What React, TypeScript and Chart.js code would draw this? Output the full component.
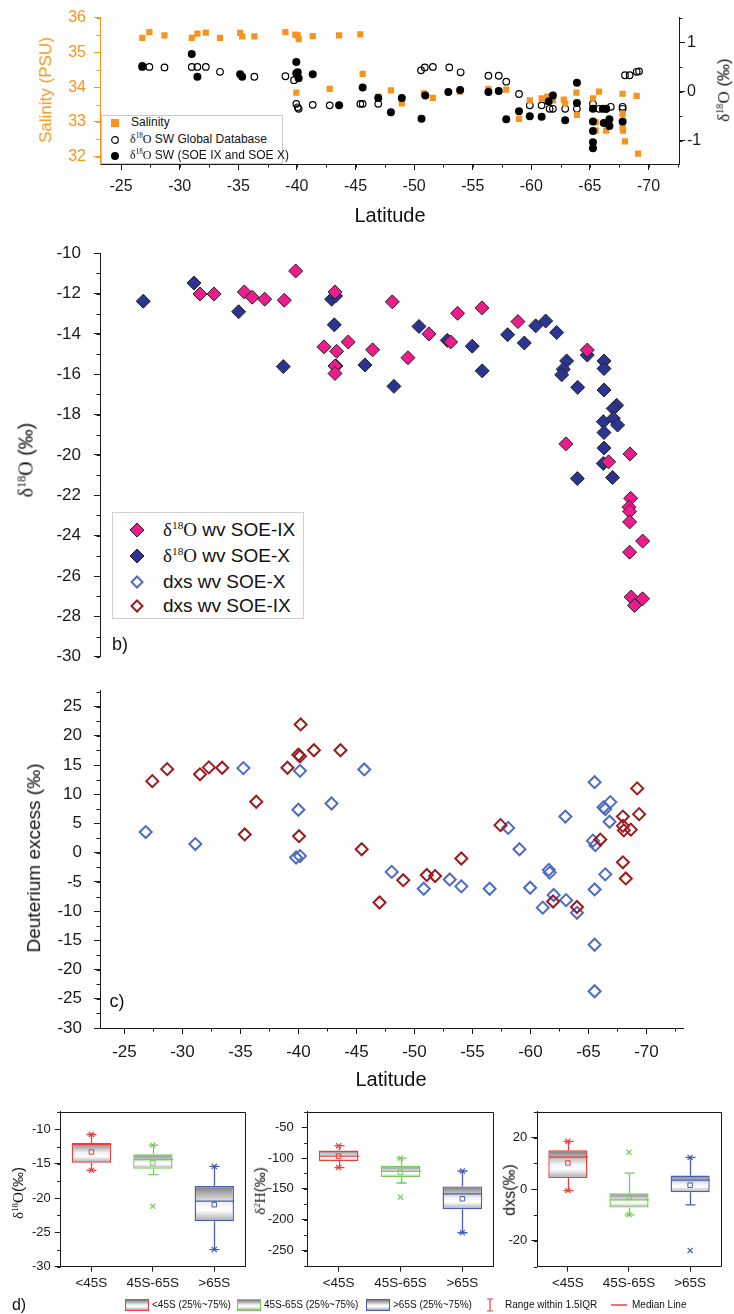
import React, { useEffect, useRef } from 'react';
import { Chart, registerables } from 'chart.js';

Chart.register(...registerables);

const SANS = '"Liberation Sans", Arial, Helvetica, sans-serif';
const SERIF = '"Liberation Serif", "Times New Roman", serif';
const AX = '#1a1a1a';
const ORANGE = '#f7931e';
const PINK = '#ec1c8c';
const NAVY = '#2b3591';
const DXS_BLUE = '#4d6cc2';
const DXS_RED = '#9b1b1f';
const BOX_COLORS = ['#ef3b3b', '#78c85a', '#4a5cb6'];

// ---------------- Panel a: surface seawater ----------------
const salLat = [-26.81, -27.41, -28.7, -31.03, -31.51, -32.23, -33.44, -35.16, -35.33, -36.37, -39.02, -39.87, -40.07, -40.15, -39.95, -41.35, -43.6, -45.41, -45.61, -42.8, -46.94, -48.02, -48.95, -50.83, -51.6, -53.89, -56.34, -57.22, -57.86, -58.95, -59.87, -60.88, -61.36, -61.84, -62.77, -62.89, -63.85, -63.89, -65.26, -65.78, -65.5, -65.5, -66.38, -67.79, -67.79, -67.79, -67.83, -67.99, -68.99, -69.11];
const salVal = [35.42, 35.58, 35.49, 35.42, 35.54, 35.57, 35.42, 35.56, 35.46, 35.46, 35.58, 35.51, 35.49, 35.38, 33.84, 35.47, 35.49, 35.52, 34.38, 33.95, 33.73, 33.91, 33.53, 33.82, 33.69, 33.87, 33.95, 33.89, 33.93, 33.09, 33.62, 33.68, 33.73, 33.62, 33.64, 33.53, 33.84, 33.2, 33.68, 33.87, 32.99, 32.75, 32.75, 33.81, 33.23, 32.84, 32.75, 32.44, 33.75, 32.09];
const gdbLat = [-26.81, -27.41, -28.7, -31.03, -31.51, -32.23, -33.44, -36.37, -39.02, -39.75, -39.95, -40.07, -40.15, -41.35, -42.8, -45.41, -45.61, -46.94, -50.59, -50.91, -51.6, -53.0, -53.97, -56.34, -57.22, -57.86, -58.95, -59.87, -60.88, -61.56, -61.84, -62.89, -63.89, -65.26, -65.78, -66.38, -66.78, -67.79, -67.79, -67.99, -68.39, -68.99, -69.19];
const gdbVal = [0.5, 0.5, 0.49, 0.5, 0.5, 0.5, 0.4, 0.3, 0.31, 0.23, -0.25, -0.32, -0.35, -0.27, -0.28, -0.25, -0.25, -0.25, 0.43, 0.49, 0.5, 0.49, 0.39, 0.32, 0.32, 0.2, -0.05, -0.28, -0.28, -0.35, -0.35, -0.35, -0.35, -0.25, -0.35, -0.35, -0.31, -0.35, -0.31, 0.33, 0.33, 0.4, 0.41];
const soeLat = [-26.81, -31.03, -31.51, -35.16, -35.33, -39.95, -39.95, -40.07, -40.15, -41.35, -43.6, -45.61, -46.94, -48.02, -48.95, -50.63, -50.95, -52.92, -53.93, -56.34, -57.22, -57.86, -58.95, -59.87, -60.88, -61.48, -61.84, -62.89, -63.89, -63.89, -65.26, -65.26, -65.26, -65.26, -65.26, -66.1, -66.38, -66.18, -66.66, -66.66, -67.79];
const soeVal = [0.52, 0.76, 0.3, 0.35, 0.3, 0.6, 0.37, 0.39, 0.27, 0.35, -0.28, 0.08, -0.13, -0.42, -0.13, -0.55, -0.08, -0.01, 0.03, -0.01, 0.01, -0.56, -0.4, -0.5, -0.51, -0.2, -0.08, -0.58, 0.18, -0.23, -0.35, -0.61, -0.8, -1.03, -1.15, -0.35, -0.35, -0.64, -0.56, -0.7, -0.61];

// ---------------- Panel b: water vapour d18O ----------------
const ixLat = [-31.51, -32.72, -35.33, -36.02, -37.09, -38.78, -39.76, -42.2, -43.15, -43.29, -43.15, -43.15, -44.29, -46.39, -48.09, -49.44, -51.25, -53.12, -53.72, -55.82, -58.92, -64.9, -63.06, -66.74, -68.58, -68.64, -68.5, -68.55, -68.55, -69.67, -68.55, -68.68, -69.66, -68.97];
const ixD18O = [-12.02, -12.02, -11.92, -12.18, -12.28, -12.33, -10.88, -14.64, -11.92, -14.86, -15.59, -15.96, -14.4, -14.79, -12.41, -15.18, -14.0, -14.4, -12.98, -12.71, -13.39, -14.8, -19.45, -20.34, -19.95, -22.15, -22.59, -22.8, -23.32, -24.27, -24.82, -27.04, -27.13, -27.46];
const xLat = [-26.62, -30.99, -34.84, -38.69, -42.86, -43.2, -43.09, -43.23, -45.73, -48.23, -50.39, -52.83, -54.98, -55.84, -58.03, -59.47, -60.45, -61.31, -62.26, -63.12, -62.83, -62.69, -64.07, -64.9, -66.34, -66.34, -66.34, -67.43, -67.14, -66.28, -67.14, -67.51, -66.34, -66.34, -66.28, -64.04, -67.08];
const xD18O = [-12.38, -11.48, -12.9, -15.62, -12.28, -12.12, -13.55, -15.59, -15.54, -16.6, -13.63, -14.32, -14.61, -15.83, -14.04, -14.45, -13.6, -13.36, -13.93, -15.34, -15.75, -16.03, -16.65, -15.05, -15.34, -15.72, -16.78, -17.54, -17.7, -18.35, -18.19, -18.52, -18.89, -19.66, -20.42, -21.17, -21.12];

// ---------------- Panel c: deuterium excess ----------------
const dxsIxLat = [-27.4, -28.68, -31.51, -32.28, -33.42, -36.36, -35.37, -39.05, -39.99, -40.13, -40.19, -40.05, -41.33, -43.62, -45.45, -46.99, -49.03, -51.06, -51.78, -54.04, -57.42, -61.95, -64.01, -66.02, -67.97, -67.97, -68.05, -68.65, -67.97, -68.22, -69.2, -69.37];
const dxsIxVal = [12.24, 14.29, 13.41, 14.59, 14.53, 8.71, 3.12, 14.53, 16.76, 16.5, 21.94, 2.82, 17.53, 17.53, 0.59, -8.53, -4.71, -3.82, -4.0, -1.0, 4.71, -8.35, -9.29, 2.24, 6.18, 4.59, 3.82, 3.94, -1.65, -4.41, 11.0, 6.59];
const dxsXLat = [-26.83, -31.11, -35.25, -39.79, -40.13, -39.99, -40.13, -42.85, -45.67, -48.04, -50.8, -53.04, -54.04, -56.48, -58.08, -59.05, -59.97, -61.06, -61.58, -61.66, -62.0, -63.07, -63.01, -64.01, -65.53, -65.39, -65.59, -65.53, -65.53, -65.53, -66.3, -66.45, -66.88, -66.82, -66.45];
const dxsXVal = [3.53, 1.47, 14.47, -0.82, -0.59, 7.35, 14.0, 8.41, 14.24, -3.29, -6.18, -4.59, -5.76, -6.18, 4.24, 0.59, -6.0, -9.41, -2.94, -3.41, -7.24, -8.12, 6.18, -10.29, 12.06, 2.06, 1.29, -6.29, -15.76, -23.71, 7.76, 7.47, 8.65, 5.29, -3.71];

// ---------------- Ticks ----------------
const latTicks = [-70, -65, -60, -55, -50, -45, -40, -35, -30, -25];
const salTicks = [32, 33, 34, 35, 36];
const swTicks = [-1, 0, 1];
const wvTicks = [-30, -28, -26, -24, -22, -20, -18, -16, -14, -12, -10];
const dxsTicks = [-30, -25, -20, -15, -10, -5, 0, 5, 10, 15, 20, 25];

// ---------------- Panel d: box plots ----------------
const boxCats = ['<45S', '45S-65S', '>65S'];
const o18Q1 = [-14.85, -15.75, -23.4];
const o18Q3 = [-11.97, -13.62, -18.25];
const o18Med = [-12.2, -14.39, -20.44];
const o18Mean = [-13.3, -14.9, -20.97];
const o18WLo = [-15.97, -16.6, -27.5];
const o18WHi = [-10.75, -12.3, -15.4];
const o18Min = [-15.97, -21.2, -27.5];
const o18Max = [-10.75, -12.3, -15.4];
const o18Ticks = [-30, -25, -20, -15, -10];

const h2Q1 = [-105, -131, -183];
const h2Q3 = [-88, -112.7, -146];
const h2Med = [-97, -121.5, -158];
const h2Mean = [-97, -123.3, -166];
const h2WLo = [-115.5, -140.5, -221];
const h2WHi = [-80, -100.3, -121];
const h2Min = [-115.5, -163.5, -221];
const h2Max = [-80, -100.3, -121];
const h2Ticks = [-250, -200, -150, -100, -50];

const dxQ1 = [4.3, -7.1, -1.16];
const dxQ3 = [15.05, -1.55, 5.3];
const dxMed = [12.45, -4.13, 3.5];
const dxMean = [10.15, -3.1, 1.55];
const dxWLo = [-0.55, -9.9, -6.1];
const dxWHi = [18.55, 6.2, 12.3];
const dxMin = [-0.55, -9.9, -23.7];
const dxMax = [18.55, 14.3, 12.3];
const dxTicks = [-20, 0, 20];

// ---------------- helpers ----------------
const toXY = (xs: number[], ys: number[]) => xs.map((x, i) => ({ x, y: ys[i] }));

function linAxis(p: any) {
  const horiz = p.position === 'bottom' || p.position === 'top';
  return {
    type: 'linear',
    display: p.display === undefined ? true : p.display,
    position: p.position,
    min: p.min,
    max: p.max,
    reverse: !!p.reverse,
    afterBuildTicks: (s: any) => {
      s.ticks = p.ticks.map((v: number) => ({ value: v }));
    },
    afterFit: (s: any) => {
      if (horiz) s.height = p.size;
      else s.width = p.size;
    },
    grid: { drawOnChartArea: false, drawTicks: true, tickLength: p.tickLen ?? 6, color: p.color ?? AX, lineWidth: 1 },
    border: { display: true, color: p.color ?? AX, width: 1 },
    ticks: {
      color: p.color ?? AX,
      font: { family: SANS, size: p.font },
      padding: p.pad,
      autoSkip: false,
      maxRotation: 0,
      minRotation: 0,
      callback: (v: number) => String(v),
    },
    title: { display: false },
  };
}

function minorTicks(list: { id: string; step: number; len?: number; color?: string }[]) {
  return {
    id: 'minorTicks',
    afterDraw(chart: any) {
      const ctx = chart.ctx;
      ctx.save();
      ctx.lineWidth = 1;
      for (const m of list) {
        const s = chart.scales[m.id];
        if (!s || !s.options.display) continue;
        const lo = Math.min(s.min, s.max);
        const hi = Math.max(s.min, s.max);
        const len = m.len ?? 3.5;
        ctx.strokeStyle = m.color ?? AX;
        ctx.beginPath();
        const n0 = Math.ceil(lo / m.step - 1e-6);
        const n1 = Math.floor(hi / m.step + 1e-6);
        for (let n = n0; n <= n1; n++) {
          const p = Math.round(s.getPixelForValue(n * m.step)) + 0.5;
          if (s.isHorizontal()) {
            ctx.moveTo(p, s.top);
            ctx.lineTo(p, s.top + len);
          } else if (s.position === 'right') {
            ctx.moveTo(s.left, p);
            ctx.lineTo(s.left + len, p);
          } else {
            ctx.moveTo(s.right, p);
            ctx.lineTo(s.right - len, p);
          }
        }
        ctx.stroke();
      }
      ctx.restore();
    },
  };
}

const framePlugin = {
  id: 'frame',
  afterDraw(chart: any) {
    const { left, right, top, bottom } = chart.chartArea;
    const ctx = chart.ctx;
    ctx.save();
    ctx.strokeStyle = AX;
    ctx.lineWidth = 1;
    ctx.beginPath();
    ctx.moveTo(left, Math.round(top) + 0.5);
    ctx.lineTo(Math.round(right) + 0.5, Math.round(top) + 0.5);
    ctx.lineTo(Math.round(right) + 0.5, bottom);
    ctx.stroke();
    ctx.restore();
  },
};

function boxExtras(b: { q1: number[]; q3: number[]; med: number[]; wLo: number[]; wHi: number[] }) {
  return {
    id: 'boxExtras',
    afterDatasetsDraw(chart: any) {
      const xs = chart.scales.x;
      const ys = chart.scales.y;
      const ctx = chart.ctx;
      const bars = chart.getDatasetMeta(0).data;
      const py = (v: number) => ys.getPixelForValue(v);
      ctx.save();
      b.q1.forEach((_v, i) => {
        const cx = Math.round(xs.getPixelForValue(i)) + 0.5;
        const w = bars[i] ? bars[i].width : 30;
        ctx.strokeStyle = BOX_COLORS[i];
        ctx.lineWidth = 1.3;
        ctx.beginPath();
        ctx.moveTo(cx, py(b.q3[i]));
        ctx.lineTo(cx, py(b.wHi[i]));
        ctx.moveTo(cx, py(b.q1[i]));
        ctx.lineTo(cx, py(b.wLo[i]));
        ctx.moveTo(cx - 5, py(b.wHi[i]));
        ctx.lineTo(cx + 5, py(b.wHi[i]));
        ctx.moveTo(cx - 5, py(b.wLo[i]));
        ctx.lineTo(cx + 5, py(b.wLo[i]));
        ctx.moveTo(cx - w / 2, py(b.med[i]));
        ctx.lineTo(cx + w / 2, py(b.med[i]));
        ctx.stroke();
      });
      ctx.restore();
    },
  };
}

const baseOpts = {
  responsive: false,
  maintainAspectRatio: false,
  animation: false,
  events: [] as string[],
  plugins: { legend: { display: false }, tooltip: { enabled: false } },
};

function configA() {
  return {
    type: 'scatter',
    data: {
      datasets: [
        { label: 'δ18O SW (SOE IX and SOE X)', data: toXY(soeLat, soeVal), yAxisID: 'y2', pointStyle: 'circle', pointRadius: 4, pointBackgroundColor: '#000', pointBorderColor: '#000', pointBorderWidth: 0, order: 1 },
        { label: 'Salinity', data: toXY(salLat, salVal), yAxisID: 'y', pointStyle: 'rect', pointRadius: 4.4, pointBackgroundColor: ORANGE, pointBorderColor: ORANGE, pointBorderWidth: 0, order: 2 },
        { label: 'δ18O SW Global Database', data: toXY(gdbLat, gdbVal), yAxisID: 'y2', pointStyle: 'circle', pointRadius: 3.3, pointBackgroundColor: 'rgba(255,255,255,0)', pointBorderColor: '#000', pointBorderWidth: 1.2, order: 3 },
      ],
    },
    options: {
      ...baseOpts,
      layout: { padding: { top: 15, left: 0, right: 0, bottom: 0 } },
      scales: {
        x: linAxis({ position: 'bottom', min: -72.6, max: -23.2, reverse: true, ticks: latTicks, size: 66, font: 16, pad: 7 }),
        y: linAxis({ position: 'left', min: 31.79, max: 36, ticks: salTicks, size: 100, font: 16, pad: 8, color: ORANGE }),
        y2: linAxis({ position: 'right', min: -1.47, max: 1.5, ticks: swTicks, size: 55, font: 16, pad: 2 }),
      },
    },
    plugins: [minorTicks([{ id: 'x', step: 2.5 }, { id: 'y', step: 0.5, color: ORANGE }, { id: 'y2', step: 0.5 }])],
  };
}

function configB() {
  return {
    type: 'scatter',
    data: {
      datasets: [
        { label: 'δ18O wv SOE-IX', data: toXY(ixLat, ixD18O), pointStyle: 'rectRot', pointRadius: 7, pointBackgroundColor: PINK, pointBorderColor: '#222', pointBorderWidth: 1, order: 1 },
        { label: 'δ18O wv SOE-X', data: toXY(xLat, xD18O), pointStyle: 'rectRot', pointRadius: 7, pointBackgroundColor: NAVY, pointBorderColor: '#222', pointBorderWidth: 1, order: 2 },
      ],
    },
    options: {
      ...baseOpts,
      layout: { padding: { top: 17.3, left: 0, right: 51, bottom: 23.3 } },
      scales: {
        x: linAxis({ display: false, position: 'bottom', min: -73.15, max: -22.89, reverse: true, ticks: latTicks, size: 0, font: 16, pad: 8 }),
        y: linAxis({ position: 'left', min: -30, max: -10, ticks: wvTicks, size: 100, font: 17, pad: 13 }),
      },
    },
    plugins: [minorTicks([{ id: 'y', step: 1 }])],
  };
}

function configC() {
  return {
    type: 'scatter',
    data: {
      datasets: [
        { label: 'dxs wv SOE-IX', data: toXY(dxsIxLat, dxsIxVal), pointStyle: 'rectRot', pointRadius: 6, pointBackgroundColor: 'rgba(255,255,255,0)', pointBorderColor: DXS_RED, pointBorderWidth: 2, order: 1 },
        { label: 'dxs wv SOE-X', data: toXY(dxsXLat, dxsXVal), pointStyle: 'rectRot', pointRadius: 6, pointBackgroundColor: 'rgba(255,255,255,0)', pointBorderColor: DXS_BLUE, pointBorderWidth: 2, order: 2 },
      ],
    },
    options: {
      ...baseOpts,
      layout: { padding: { top: 22, left: 0, right: 51, bottom: 0 } },
      scales: {
        x: linAxis({ position: 'bottom', min: -73.15, max: -22.89, reverse: true, ticks: latTicks, size: 52, font: 17, pad: 8 }),
        y: linAxis({ position: 'left', min: -30, max: 27.8, ticks: dxsTicks, size: 100, font: 17, pad: 12 }),
      },
    },
    plugins: [minorTicks([{ id: 'x', step: 2.5 }, { id: 'y', step: 2.5 }])],
  };
}

function boxGradient(c: any) {
  const chart = c.chart;
  const ys = chart.scales && chart.scales.y;
  if (!ys || c.type !== 'data' || !c.raw) return '#dddddd';
  const t = ys.getPixelForValue(c.raw[1]);
  const bt = ys.getPixelForValue(c.raw[0]);
  if (!isFinite(t) || !isFinite(bt) || t === bt) return '#dddddd';
  const g = chart.ctx.createLinearGradient(0, t, 0, bt);
  g.addColorStop(0, '#7c7c7c');
  g.addColorStop(0.5, '#f4f4f4');
  g.addColorStop(0.68, '#ffffff');
  g.addColorStop(1, '#a6a6a6');
  return g;
}

function configBox(p: any) {
  return {
    type: 'bar',
    data: {
      labels: boxCats,
      datasets: [
        { type: 'bar', label: 'box', data: p.q1.map((v: number, i: number) => [v, p.q3[i]]), backgroundColor: boxGradient, borderColor: BOX_COLORS, borderWidth: 1.4, borderSkipped: false, barPercentage: 0.64, categoryPercentage: 1, order: 3 },
        { type: 'line', label: 'mean', data: p.mean, showLine: false, pointStyle: 'rect', pointRadius: 3.2, pointBackgroundColor: 'rgba(255,255,255,0)', pointBorderColor: BOX_COLORS, pointBorderWidth: 1, order: 1 },
        { type: 'line', label: 'min', data: p.mn, showLine: false, pointStyle: 'crossRot', pointRadius: 3.6, pointBorderColor: BOX_COLORS, pointBorderWidth: 1.2, order: 1 },
        { type: 'line', label: 'max', data: p.mx, showLine: false, pointStyle: 'crossRot', pointRadius: 3.6, pointBorderColor: BOX_COLORS, pointBorderWidth: 1.2, order: 1 },
      ],
    },
    options: {
      ...baseOpts,
      layout: { padding: { top: 16.7, left: 0, right: p.rightPad, bottom: 0 } },
      scales: {
        x: {
          type: 'category',
          position: 'bottom',
          offset: true,
          afterFit: (s: any) => {
            s.height = 33.3;
          },
          grid: { drawOnChartArea: false, offset: false, drawTicks: true, tickLength: 5, color: AX },
          border: { display: true, color: AX, width: 1 },
          ticks: { font: { family: SANS, size: 13.5 }, color: AX, padding: 3, maxRotation: 0, minRotation: 0, autoSkip: false },
        },
        y: linAxis({ position: 'left', min: p.min, max: p.max, ticks: p.ticks, size: p.ySize, font: 13, pad: p.pad }),
      },
    },
    plugins: [minorTicks([{ id: 'y', step: p.minor }]), framePlugin, boxExtras({ q1: p.q1, q3: p.q3, med: p.med, wLo: p.wLo, wHi: p.wHi })],
  };
}

// ---------------- text helpers ----------------
const Sup = ({ children }: { children: any }) => (
  <span style={{ fontSize: '0.6em', position: 'relative', top: '-0.6em', lineHeight: 0 }}>{children}</span>
);

function T(props: { x: number; y: number; size: number; rot?: boolean; left?: boolean; color?: string; family?: string; children: any }) {
  const tr = props.left ? 'translate(0,-50%)' : `translate(-50%,-50%)${props.rot ? ' rotate(-90deg)' : ''}`;
  return (
    <div
      style={{
        position: 'absolute',
        left: props.x,
        top: props.y,
        transform: tr,
        fontSize: props.size,
        color: props.color ?? '#111',
        fontFamily: props.family ?? SANS,
        whiteSpace: 'nowrap',
        lineHeight: 1.15,
      }}
    >
      {props.children}
    </div>
  );
}

const Iso = ({ sup = '18', el = 'O' }: { sup?: string; el?: string }) => (
  <span style={{ fontFamily: SERIF }}>
    δ<Sup>{sup}</Sup>
    {el}
  </span>
);

function Marker(props: { x: number; y: number; kind: string; color: string }) {
  const s = 16;
  const h = s / 2;
  let el: any = null;
  if (props.kind === 'square') el = <rect x={h - 4} y={h - 4} width={8} height={8} fill={props.color} />;
  if (props.kind === 'open') el = <circle cx={h} cy={h} r={3.3} fill="none" stroke="#000" strokeWidth={1.2} />;
  if (props.kind === 'dot') el = <circle cx={h} cy={h} r={4} fill="#000" />;
  if (props.kind === 'diamond') el = <polygon points={`${h},${h - 7} ${h + 7},${h} ${h},${h + 7} ${h - 7},${h}`} fill={props.color} stroke="#222" strokeWidth={1} />;
  if (props.kind === 'odiamond') el = <polygon points={`${h},${h - 5.5} ${h + 5.5},${h} ${h},${h + 5.5} ${h - 5.5},${h}`} fill="none" stroke={props.color} strokeWidth={2} />;
  return (
    <svg width={s} height={s} style={{ position: 'absolute', left: props.x - h, top: props.y - h }}>
      {el}
    </svg>
  );
}

function BoxIcon(props: { x: number; y: number; color: string }) {
  return (
    <div
      style={{
        position: 'absolute',
        left: props.x,
        top: props.y - 6,
        width: 24,
        height: 12,
        boxSizing: 'border-box',
        border: `1px solid ${props.color}`,
        background: 'linear-gradient(to bottom, #7c7c7c, #f4f4f4 50%, #ffffff 68%, #a6a6a6)',
      }}
    />
  );
}

export default function App() {
  const ra = useRef<HTMLCanvasElement>(null);
  const rb = useRef<HTMLCanvasElement>(null);
  const rc = useRef<HTMLCanvasElement>(null);
  const rd1 = useRef<HTMLCanvasElement>(null);
  const rd2 = useRef<HTMLCanvasElement>(null);
  const rd3 = useRef<HTMLCanvasElement>(null);

  useEffect(() => {
    const charts: any[] = [];
    if (ra.current) charts.push(new Chart(ra.current, configA() as any));
    if (rb.current) charts.push(new Chart(rb.current, configB() as any));
    if (rc.current) charts.push(new Chart(rc.current, configC() as any));
    if (rd1.current)
      charts.push(
        new Chart(rd1.current, configBox({ q1: o18Q1, q3: o18Q3, med: o18Med, mean: o18Mean, wLo: o18WLo, wHi: o18WHi, mn: o18Min, mx: o18Max, ticks: o18Ticks, min: -30, max: -7.43, minor: 2.5, ySize: 60.7, rightPad: 15, pad: 4 }) as any)
      );
    if (rd2.current)
      charts.push(
        new Chart(rd2.current, configBox({ q1: h2Q1, q3: h2Q3, med: h2Med, mean: h2Mean, wLo: h2WLo, wHi: h2WHi, mn: h2Min, mx: h2Max, ticks: h2Ticks, min: -276, max: -25, minor: 25, ySize: 57.7, rightPad: 16.7, pad: 8 }) as any)
      );
    if (rd3.current)
      charts.push(
        new Chart(rd3.current, configBox({ q1: dxQ1, q3: dxQ3, med: dxMed, mean: dxMean, wLo: dxWLo, wHi: dxWHi, mn: dxMin, mx: dxMax, ticks: dxTicks, min: -30, max: 30, minor: 10, ySize: 32.3, rightPad: 13.3, pad: 4 }) as any)
      );
    return () => charts.forEach((c) => c.destroy());
  }, []);

  const cv = (left: number, top: number) => ({ position: 'absolute' as const, left, top });

  return (
    <div style={{ position: 'absolute', left: 0, top: 0, width: 734, height: 1314, background: '#fff', overflow: 'hidden', fontFamily: SANS }}>
      <canvas ref={ra} width={734} height={230} style={cv(0, 0)} />
      <canvas ref={rb} width={734} height={450} style={cv(0, 230)} />
      <canvas ref={rc} width={734} height={412} style={cv(0, 668)} />
      <canvas ref={rd1} width={260} height={205} style={cv(0, 1095)} />
      <canvas ref={rd2} width={260} height={205} style={cv(250, 1095)} />
      <canvas ref={rd3} width={229} height={205} style={cv(505, 1095)} />

      {/* Panel a titles */}
      <T x={46} y={90} size={17} rot color={ORANGE}>Salinity (PSU)</T>
      <T x={724} y={90} size={17} rot>
        <Iso /> (‰)
      </T>
      <T x={390} y={215} size={20}>Latitude</T>

      {/* Panel a legend */}
      <div style={{ position: 'absolute', left: 101, top: 115, width: 182, height: 49, boxSizing: 'border-box', border: '1px solid #c9c9c9', background: '#fff' }} />
      <Marker x={115} y={123} kind="square" color={ORANGE} />
      <T x={131} y={123} size={12} left>Salinity</T>
      <Marker x={115} y={139.5} kind="open" color="#000" />
      <T x={130} y={139.5} size={12} left>
        <Iso /> SW Global Database
      </T>
      <Marker x={115} y={155.5} kind="dot" color="#000" />
      <T x={130} y={155.5} size={12} left>
        <Iso /> SW (SOE IX and SOE X)
      </T>

      {/* Panel b */}
      <T x={26} y={460} size={20} rot>
        <Iso /> (‰)
      </T>
      <div style={{ position: 'absolute', left: 112, top: 512, width: 192, height: 107, boxSizing: 'border-box', border: '1px solid #d0d0d0', background: '#fff' }} />
      <Marker x={137} y={529.5} kind="diamond" color={PINK} />
      <T x={163} y={529.5} size={19} left>
        <Iso /> wv SOE-IX
      </T>
      <Marker x={137} y={556} kind="diamond" color={NAVY} />
      <T x={163} y={556} size={19} left>
        <Iso /> wv SOE-X
      </T>
      <Marker x={137} y={581.5} kind="odiamond" color={DXS_BLUE} />
      <T x={163} y={581.5} size={19} left>dxs wv SOE-X</T>
      <Marker x={137} y={606} kind="odiamond" color={DXS_RED} />
      <T x={163} y={606} size={19} left>dxs wv SOE-IX</T>
      <T x={120} y={644} size={18}>b)</T>

      {/* Panel c */}
      <T x={34} y={858} size={19} rot>Deuterium excess (‰)</T>
      <T x={117} y={1001} size={18}>c)</T>
      <T x={391} y={1079} size={20}>Latitude</T>

      {/* Panel d titles */}
      <T x={18} y={1193} size={15} rot>
        <Iso />(‰)
      </T>
      <T x={260} y={1191} size={15} rot>
        <Iso sup="2" el="H" />(‰)
      </T>
      <T x={510} y={1190} size={16} rot>dxs(‰)</T>

      {/* Panel d legend */}
      <T x={19} y={1305} size={16}>d)</T>
      <BoxIcon x={125} y={1305} color={BOX_COLORS[0]} />
      <T x={152} y={1305} size={10} left>{'<45S (25%~75%)'}</T>
      <BoxIcon x={237} y={1305} color={BOX_COLORS[1]} />
      <T x={264} y={1305} size={10} left>45S-65S (25%~75%)</T>
      <BoxIcon x={366} y={1305} color={BOX_COLORS[2]} />
      <T x={393} y={1305} size={10} left>{'>65S (25%~75%)'}</T>
      <svg width={10} height={14} style={{ position: 'absolute', left: 485, top: 1298 }}>
        <path d="M2 1 H8 M5 1 V13 M2 13 H8" stroke={BOX_COLORS[0]} strokeWidth={1.2} fill="none" />
      </svg>
      <T x={505} y={1305} size={10} left>Range within 1.5IQR</T>
      <div style={{ position: 'absolute', left: 611, top: 1304, width: 16, height: 2, background: '#f07070' }} />
      <T x={632} y={1305} size={10} left>Median Line</T>
    </div>
  );
}
